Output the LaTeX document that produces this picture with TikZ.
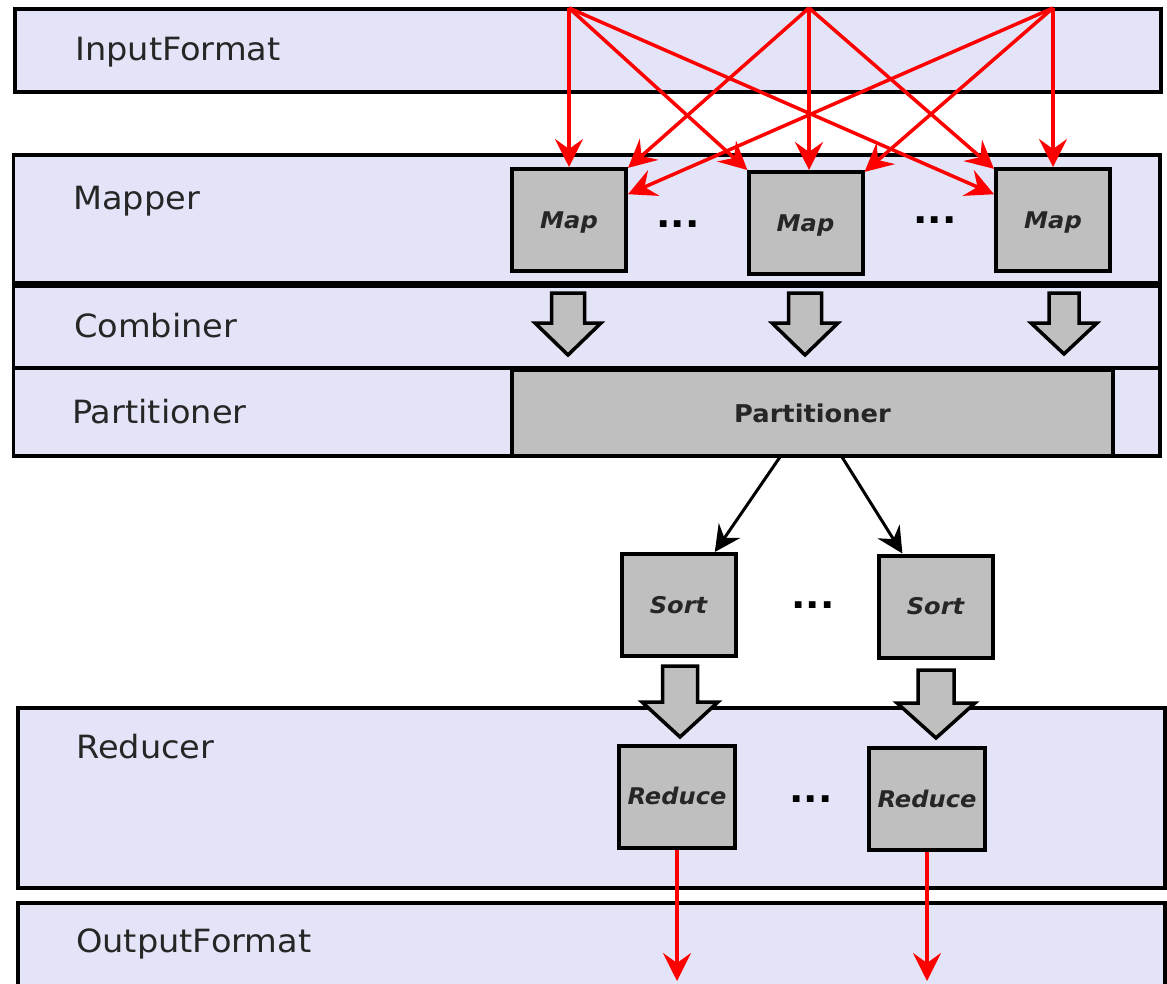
\documentclass[tikz,border=0pt]{standalone}
\usepackage{fontspec}
\setmainfont[FakeStretch=1.05]{DejaVu Sans}
\usetikzlibrary{arrows.meta}
\definecolor{bandfill}{HTML}{E4E4F8}
\definecolor{boxfill}{HTML}{BFBFBF}
\definecolor{txt}{HTML}{262626}
\definecolor{redarr}{HTML}{FF0000}
\begin{document}
\begin{tikzpicture}[x=1pt,y=-1pt,
  band/.style={draw=black, fill=bandfill, line width=3.5pt},
  bandlabel/.style={anchor=base west, inner sep=0pt, text=txt, font=\fontsize{32}{38}\selectfont},
  gbox/.style={draw=black, fill=boxfill, line width=4pt, minimum width=114pt, minimum height=102pt,
    inner sep=0pt, text height=16.8pt, text depth=0pt, text=txt, font=\fontsize{23}{28}\selectfont\bfseries\itshape},
  partbox/.style={draw=black, fill=boxfill, line width=3.5pt, minimum width=601pt, minimum height=86pt,
    inner sep=0pt, text=txt, font=\fontsize{24.5}{28}\selectfont\bfseries},
  dots/.style={anchor=base, inner sep=0pt, text=black, font=\fontsize{36}{40}\selectfont\bfseries},
  redarrow/.style={draw=redarr, line width=3.5pt, -{Stealth[length=28pt,width=28pt,inset=10pt]}},
  blackarrow/.style={draw=black, line width=3pt, -{Stealth[length=26pt,width=26pt,inset=9pt]}},
  barrowline/.style={draw=black, fill=boxfill, line width=3.5pt, line join=miter},
  pics/barrow/.style n args={4}{code={\path[barrowline] (-#1,0) -- (#1,0) -- (#1,#3) -- (#2,#3) -- (0,#4) -- (-#2,#3) -- (-#1,#3) -- cycle;}}
]
\useasboundingbox (0,0) rectangle (1167,983);
\clip (0,0) rectangle (1167,983);

% bands
\draw[band] (15,9) rectangle (1161,92);
\draw[band] (13.5,155) rectangle (1160,283);
\draw[band] (13.5,286) rectangle (1160,368);
\draw[band] (13.5,368) rectangle (1160,456);
\draw[band] (18,708) rectangle (1165,888);
\draw[band] (18,903) rectangle (1165,1000);

% band labels
\node[bandlabel] (lin) at (75,60) {InputFormat};
\node[bandlabel] (lmap) at (73,209) {Mapper};
\node[bandlabel] (lcomb) at (74,337) {Combiner};
\node[bandlabel] (lpart) at (72,423) {Partitioner};
\node[bandlabel] (lred) at (76,758) {Reducer};
\node[bandlabel] (lout) at (76,952) {OutputFormat};

% partitioner box
\node[partbox] (part) at (812.5,413) {Partitioner};

% boxes
\node[gbox] (m1) at (569,220) {Map};
\node[gbox] (m2) at (805.5,223) {Map};
\node[gbox] (m3) at (1053,220) {Map};
\node[gbox] (so1) at (678.5,605) {Sort};
\node[gbox] (so2) at (935.5,606.5) {Sort};
\node[gbox, minimum width=116pt] (r1) at (677,796.5) {Reduce};
\node[gbox, minimum width=116pt] (r2) at (927,799) {Reduce};

% dots
\node[dots] (d1) at (678,227) {...};
\node[dots] (d2) at (935,223) {...};
\node[dots] (d3) at (813,608) {...};
\node[dots] (d4) at (811,802) {...};

% block arrows
\pic at (568,293) {barrow={16.5}{33}{30}{62}};
\pic at (805,293) {barrow={16.5}{33}{30}{62}};
\pic at (1064,293) {barrow={15}{33}{30}{61}};
\pic at (680,666) {barrow={17.5}{38}{36}{71}};
\pic at (936,670) {barrow={18}{39}{33}{68}};

% red input arrows
\coordinate (s1) at (569,8);
\coordinate (s2) at (809,8);
\coordinate (s3) at (1053,8);
\draw[redarrow] (s1) -- (s1 |- m1.north);
\draw[redarrow] (s1) -- (m2);
\draw[redarrow] (s1) -- (m3);
\draw[redarrow] (s2) -- (m1);
\draw[redarrow] (s2) -- (s2 |- m2.north);
\draw[redarrow] (s2) -- (m3);
\draw[redarrow] (s3) -- (m1);
\draw[redarrow] (s3) -- (m2);
\draw[redarrow] (s3) -- (s3 |- m3.north);

% partitioner to sort
\coordinate (p1) at (780,457);
\coordinate (p2) at (842,457);
\draw[blackarrow] (p1) -- (so1);
\draw[blackarrow] (p2) -- (so2);

% output arrows
\coordinate (bot) at (0,981);
\draw[redarrow] (r1.south) -- (r1.south |- bot);
\draw[redarrow] (r2.south) -- (r2.south |- bot);
\end{tikzpicture}
\end{document}
